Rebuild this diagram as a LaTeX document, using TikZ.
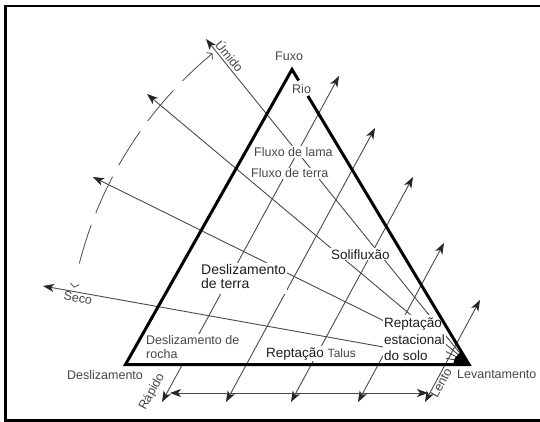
\documentclass[tikz,border=0pt]{standalone}
\usepackage{fontspec}
\setmainfont{Liberation Sans}
\usetikzlibrary{arrows.meta}
\definecolor{linegray}{HTML}{4A4A4A}
\definecolor{txtgray}{HTML}{474747}
\definecolor{txtdark}{HTML}{1E1E1E}
\newcommand{\stackedtext}[1]{\begin{tabular}[t]{@{}l@{}}#1\end{tabular}}
\tikzset{
  headtip/.tip={Stealth[length=11pt,width=8pt,inset=3pt,color=black!85]},
  barbtip/.tip={Straight Barb[length=3.5pt,width=9pt]},
  thinline/.style={draw=linegray, line width=0.9pt},
  oneway/.style={thinline, -{headtip}},
  twoway/.style={thinline, {headtip}-{headtip}},
  edgeline/.style={draw=black, line width=3pt, line join=miter},
  darklabel/.style={fill=white, inner sep=1pt, text=txtdark, anchor=base west,
    font=\fontsize{13.5}{16.5}\selectfont},
  greylabel/.style={fill=white, inner sep=1pt, text=txtgray, anchor=base west,
    font=\fontsize{12.5}{14}\selectfont},
  freelabel/.style={inner sep=0pt, text=txtgray, font=\fontsize{12.5}{14}\selectfont},
}
\begin{document}
\begin{tikzpicture}[x=1pt,y=-1pt]
\useasboundingbox (0,0) rectangle (540,422);
\fill[white] (0,0) rectangle (540,422);

% frame
\draw[line width=2.8pt] (545,6) -- (5.6,6) -- (5.6,420.5) -- (545,420.5);

% triangle corners
\coordinate (T) at (292,69.5);
\coordinate (L) at (125.5,364.5);
\coordinate (R) at (469,364.5);
\coordinate (gapA) at (298.6,80.5);
\coordinate (gapB) at (307.9,96);

% moisture lines, converging on the slow corner
\coordinate (V) at (467,362);
\coordinate (umido) at (206,39);
\coordinate (wet2) at (147,94);
\coordinate (wet3) at (93,177);
\coordinate (seco) at (43,286);
\draw[oneway] (V) -- (umido);
\draw[oneway] (V) -- (wet2);
\draw[oneway] (V) -- (wet3);
\draw[oneway] (V) -- (seco);

% speed lines, parallel to the left side
\coordinate (a1) at (162,402); \coordinate (a2) at (339,76);
\coordinate (b1) at (226,402); \coordinate (b2) at (375,128);
\coordinate (c1) at (291,402); \coordinate (c2) at (413,177);
\coordinate (d1) at (358,402); \coordinate (d2) at (444,243);
\coordinate (e1) at (425,402); \coordinate (e2) at (480,300);
\draw[twoway] (a1) -- (a2);
\draw[twoway] (b1) -- (b2);
\draw[twoway] (c1) -- (c2);
\draw[twoway] (d1) -- (d2);
\draw[twoway] (e1) -- (e2);

% horizontal speed axis
\coordinate (h1) at (170,393);
\coordinate (h2) at (428,393);
\draw[twoway] (h1) -- (h2);

% dashed moisture arc around the slow corner
\draw[draw=linegray, line width=0.8pt,
  dash pattern=on 40pt off 13pt on 40pt off 13pt on 40pt off 13pt on 40pt off 13pt on 40pt off 40pt,
  {barbtip}-{barbtip}]
  plot[domain=129.5:169.3, samples=25] ({467+400*cos(\x)},{362-400*sin(\x)});

% labels inside the triangle
\node[freelabel, anchor=base west] (rio) at (292,93.5) {Rio};
\node[greylabel] (lama) at (253,156.5) {Fluxo de lama};
\node[greylabel] (fterra) at (250,178) {Fluxo de terra};
\node[darklabel, font=\fontsize{14}{14.5}\selectfont] (dterra) at (200,274)
  {\stackedtext{Deslizamento\\de terra}};
\node[darklabel] (solif) at (330,259) {Solifluxão};
\node[darklabel] (repta) at (383,327.5) {\stackedtext{Reptação\\estacional\\do solo}};
\node[greylabel] (rocha) at (145,344.5) {\stackedtext{Deslizamento de\\rocha}};
\node[darklabel] (talus) at (265,357)
  {Reptação {\color{txtgray}\fontsize{12}{14}\selectfont Talus}};

% triangle, open where the river label sits
\draw[edgeline] (gapA) -- (T) -- (L) -- (R) -- (gapB);
\fill[black] (R) -- (461,351.5) -- (455,358) -- (453,364.5) -- cycle;

% corner and axis labels
\node[freelabel, anchor=base west] (fuxo) at (275,61) {Fuxo};
\node[freelabel, anchor=base west] (desl) at (67,379) {Deslizamento};
\node[freelabel, anchor=base west] (levant) at (457,378) {Levantamento};
\node[freelabel, rotate=-51] (umidolab) at (230,56) {Úmido};
\node[freelabel, rotate=-10] (secolab) at (78,298) {Seco};
\node[freelabel, rotate=61] (rapido) at (152,392) {Rápido};
\node[freelabel, rotate=61] (lento) at (441,383) {Lento};
\end{tikzpicture}
\end{document}
